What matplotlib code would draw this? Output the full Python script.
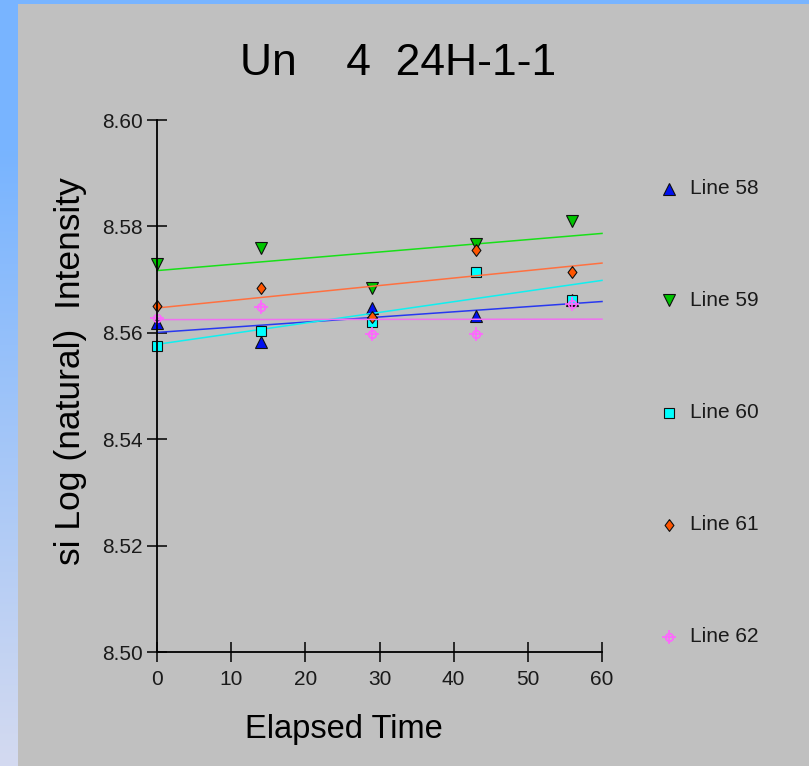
import numpy as np
import matplotlib
matplotlib.use("Agg")
import matplotlib.pyplot as plt
from matplotlib.patches import Rectangle

plt.rcParams['font.family'] = ['Liberation Sans', 'DejaVu Sans']

# ---- chart text ----
title = "Un    4  24H-1-1"
x_label = "Elapsed Time"
y_label = "si Log (natural)  Intensity"

# ---- data ----
elapsed = [0, 14, 29, 43, 56]
series_names = ["Line 58", "Line 59", "Line 60", "Line 61", "Line 62"]
line58 = [8.5618, 8.5583, 8.5647, 8.5631, 8.5662]
line59 = [8.5729, 8.5760, 8.5684, 8.5767, 8.5810]
line60 = [8.5576, 8.5604, 8.5621, 8.5714, 8.5661]
line61 = [8.5650, 8.5684, 8.5630, 8.5755, 8.5714]
line62 = [8.5627, 8.5648, 8.5598, 8.5598, 8.5655]

x_ticks = [0, 10, 20, 30, 40, 50, 60]
y_ticks = [8.50, 8.52, 8.54, 8.56, 8.58, 8.60]
x_range = (0, 60)
y_range = (8.50, 8.60)

series_values = [line58, line59, line60, line61, line62]

# slightly narrow diamond marker
diamond = [(0, 1), (0.75, 0), (0, -1), (-0.75, 0), (0, 1)]

# marker face colour, fit-line colour, marker style
styles = [
    dict(face='#0010F0', line='#2838F0', marker='^', ms=8.0),
    dict(face='#00C400', line='#18E018', marker='v', ms=8.0),
    dict(face='#00FFFF', line='#10F0F0', marker='s', ms=7.5),
    dict(face='#FF5500', line='#FF7040', marker=diamond, ms=8.5),
    dict(face='#FF66FF', line='#F070F0', marker='cross', ms=5.5),
]

W, H = 809, 766
fig = plt.figure(figsize=(W / 100, H / 100), dpi=100)

# ---- background: blue gradient frame with grey panel ----
bg = fig.add_axes([0, 0, 1, 1], zorder=-10)
rows = np.arange(H)
t = np.clip((rows - 150) / (H - 150), 0, 1)[:, None]
top = np.array([120, 180, 255]) / 255
bottom = np.array([212, 218, 240]) / 255
grad = (top + (bottom - top) * t)[:, None, :]
bg.imshow(grad, extent=[0, W, H, 0], aspect='auto')
bg.add_patch(Rectangle((18, 4), W - 18, H - 4, facecolor='#C0C0C0', edgecolor='none'))
bg.set_xlim(0, W)
bg.set_ylim(H, 0)
bg.axis('off')

# ---- main plot ----
ax = fig.add_axes([157 / W, 1 - 652 / H, 445 / W, 532 / H])
ax.set_facecolor('none')


def draw_marker(axis, x, y, st, **kw):
    if isinstance(st['marker'], str) and st['marker'] == 'cross':
        axis.plot(x, y, linestyle='none', marker='o', ms=st['ms'], mfc='none',
                  mec=st['face'], mew=1.2, **kw)
        axis.plot(x, y, linestyle='none', marker='+', ms=st['ms'] + 4,
                  mec=st['face'], mew=1.2, **kw)
    else:
        axis.plot(x, y, linestyle='none', marker=st['marker'], ms=st['ms'],
                  mfc=st['face'], mec='#101010', mew=0.8, **kw)


fit_x = np.array(x_range, dtype=float)
for vals, st in zip(series_values, styles):
    slope, intercept = np.polyfit(elapsed, vals, 1)
    ax.plot(fit_x, slope * fit_x + intercept, color=st['line'], lw=1.1,
            zorder=2, clip_on=False)
    draw_marker(ax, elapsed, vals, st, zorder=2, clip_on=False)

ax.set_xlim(*x_range)
ax.set_ylim(*y_range)
ax.set_xticks(x_ticks)
ax.set_yticks(y_ticks)
ax.set_yticklabels([f"{v:.2f}" for v in y_ticks])
for s in ('top', 'right'):
    ax.spines[s].set_visible(False)
for s in ('left', 'bottom'):
    ax.spines[s].set_linewidth(1.3)
    ax.spines[s].set_color('black')
    ax.spines[s].set_zorder(3)
ax.tick_params(direction='inout', length=15, width=1.1, labelsize=15,
               labelcolor='#1a1a1a', color='black')
ax.tick_params(axis='y', pad=2.5)
ax.tick_params(axis='x', pad=5.5)

# ---- titles ----
fig.text(398 / W, 1 - 75 / H, title, ha='center', va='baseline', fontsize=32)
fig.text(344 / W, 1 - 738 / H, x_label, ha='center', va='baseline', fontsize=23.5)
fig.text(71 / W, 1 - 371 / H, y_label, ha='center', va='center',
         rotation=90, fontsize=25.5)

# ---- legend ----
lax = fig.add_axes([0, 0, 1, 1], zorder=5)
lax.set_xlim(0, W)
lax.set_ylim(H, 0)
lax.axis('off')
legend_rows = [189, 300, 413, 525, 637]
for name, st, yy in zip(series_names, styles, legend_rows):
    draw_marker(lax, [669], [yy], st)
    lax.text(690, yy, name, ha='left', va='center', fontsize=15, color='#1a1a1a')

fig.savefig('out.png', dpi=100)
